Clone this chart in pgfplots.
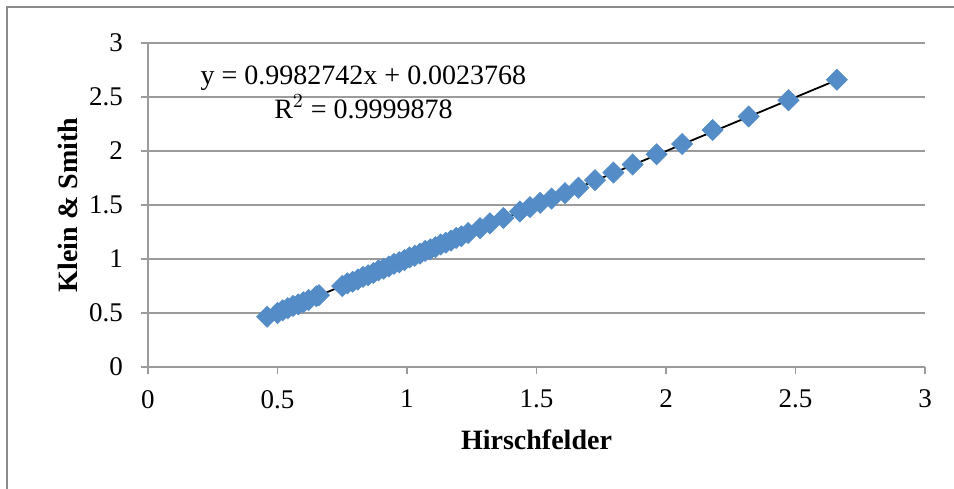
\documentclass[border=0pt]{standalone}
\usepackage{fontspec}
\setmainfont{Liberation Serif}
\usepackage{pgfplots}
\pgfplotsset{compat=1.18}
\usetikzlibrary{calc}
\definecolor{ptblue}{RGB}{84,140,200}
\definecolor{gridgray}{RGB}{155,155,155}
\definecolor{framegray}{RGB}{140,140,140}
\begin{document}
\begin{tikzpicture}
\begin{axis}[
  name=ax,
  scale only axis,
  width=388.5pt, height=162pt,
  xmin=0, xmax=3, ymin=0, ymax=3,
  xtick={0,0.5,...,3}, ytick={0,0.5,...,3},
  axis lines=left,
  axis line style={-, draw=gridgray, line width=0.9pt},
  tick style={draw=gridgray, line width=0.9pt},
  tick align=outside,
  major tick length=3.5pt,
  ymajorgrids=true,
  major grid style={draw=gridgray, line width=0.9pt},
  /pgf/number format/assume math mode=true,
  ticklabel style={font=\fontsize{13.5}{15}\selectfont},
  xticklabel style={yshift=-4.5pt},
  yticklabel style={xshift=-5.5pt},
  xlabel={\textbf{Hirschfelder}},
  ylabel={\textbf{Klein \& Smith}},
  label style={font=\fontsize{14}{16}\selectfont},
  xlabel style={at={(axis description cs:0.5,-0.2253)}, anchor=center},
  ylabel style={at={(axis description cs:-0.103,0.5)}, anchor=center},
  clip=false,
]
\addplot[only marks, mark=square*, mark size=3.7pt, mark options={rotate=45, fill=ptblue, draw=ptblue}]
coordinates {
(0.46,0.465) (0.50,0.50) (0.52,0.525) (0.54,0.545) (0.56,0.565) (0.58,0.58)
(0.60,0.60) (0.62,0.62) (0.65,0.655) (0.66,0.665)
(0.75,0.75) (0.77,0.775) (0.79,0.79) (0.81,0.81) (0.83,0.835) (0.85,0.85)
(0.87,0.87) (0.89,0.895) (0.91,0.91) (0.93,0.93) (0.95,0.955) (0.97,0.97)
(0.99,0.99) (1.01,1.015) (1.03,1.03) (1.05,1.05) (1.07,1.075) (1.09,1.09)
(1.11,1.11) (1.13,1.135) (1.15,1.15) (1.17,1.17) (1.19,1.195) (1.21,1.21)
(1.236,1.24) (1.282,1.285) (1.32,1.33) (1.372,1.38) (1.436,1.44) (1.475,1.48)
(1.514,1.52) (1.558,1.56) (1.61,1.61) (1.662,1.66) (1.726,1.73) (1.797,1.80)
(1.871,1.875) (1.964,1.97) (2.062,2.065) (2.18,2.195) (2.319,2.32) (2.473,2.47)
(2.66,2.66)
};
\addplot[black, line width=0.9pt] coordinates {(0.46,0.4616) (2.66,2.6577)};
\node[align=center, font=\fontsize{14}{16}\selectfont, inner sep=0pt] at (axis cs:0.832,2.545)
  {y = 0.9982742x + 0.0023768\\[1pt]R$^2$ = 0.9999878};
\end{axis}
\pgfresetboundingbox
\useasboundingbox ($(ax.south west)+(-74pt,-60.5pt)$) rectangle ($(ax.north east)+(14.5pt,21.5pt)$);
\draw[framegray, line width=0.8pt] ($(ax.south west)+(-70.5pt,-70pt)$) -- ($(ax.north west)+(-70.5pt,18pt)$) -- ($(ax.north east)+(30pt,18pt)$);
\end{tikzpicture}
\end{document}
